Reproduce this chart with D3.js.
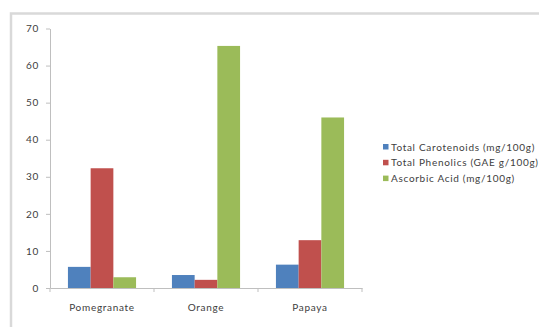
<!DOCTYPE html>
<html><head><meta charset="utf-8">
<script src="https://cdn.jsdelivr.net/npm/d3@7"></script>
<style>body{margin:0;background:#fff}svg{display:block}text{font-family:Lato,"Open Sans",sans-serif;letter-spacing:0.7px}</style>
</head><body><svg id="c" width="539" height="327"></svg>
<script>
const categories = ["Pomegranate", "Orange", "Papaya"];
const seriesNames = ["Total Carotenoids (mg/100g)", "Total Phenolics (GAE g/100g)", "Ascorbic Acid (mg/100g)"];
const carotenoids = [5.7, 3.5, 6.3];
const phenolics = [32.3, 2.2, 12.9];
const ascorbic = [2.9, 65.3, 46.0];
const yTicks = [0, 10, 20, 30, 40, 50, 60, 70];
const colors = ["#4f81bd", "#c0504d", "#9bbb59"];

const values = [carotenoids, phenolics, ascorbic];
const svg = d3.select("#c");

// frame
svg.append("path").attr("d", "M11,327V13.5H539").attr("fill", "none").attr("stroke", "#d9d9d9").attr("stroke-width", 2.5);

const x0 = d3.scaleBand().domain(categories).range([50, 362]).paddingInner(0).paddingOuter(0);
const x1 = d3.scaleBand().domain(d3.range(3)).range([0, x0.bandwidth()]).paddingInner(0).paddingOuter(0.79);
const y = d3.scaleLinear().domain([0, 70]).range([288, 28.5]);

// y axis
const ya = svg.append("g").attr("transform", "translate(50,0)")
  .call(d3.axisLeft(y).tickValues(yTicks).tickSize(4).tickPadding(7).tickSizeOuter(0));
ya.select(".domain").attr("stroke", "#bfbfbf");
ya.selectAll(".tick line").attr("stroke", "#bfbfbf");
ya.selectAll("text").attr("fill", "#404040").style("font-size", "10px");

// bars
categories.forEach((c, ci) => {
  values.forEach((arr, si) => {
    svg.append("rect")
      .attr("x", x0(c) + x1(si)).attr("width", x1.bandwidth())
      .attr("y", y(arr[ci])).attr("height", y(0) - y(arr[ci]))
      .attr("fill", colors[si]);
  });
});

// x axis
const xa = svg.append("g").attr("transform", "translate(0,288)")
  .call(d3.axisBottom(x0).tickSize(0).tickPadding(16));
xa.select(".domain").attr("stroke", "#bfbfbf");
xa.selectAll("text").attr("fill", "#404040").style("font-size", "10px");
const bounds = categories.map(c => x0(c)).concat([x0.range()[1]]);
svg.append("g").selectAll("line").data(bounds).join("line")
  .attr("x1", d => d).attr("x2", d => d).attr("y1", 288).attr("y2", 292)
  .attr("stroke", "#bfbfbf");

// legend
const lg = svg.append("g");
seriesNames.forEach((s, i) => {
  const yy = 147 + i * 15.8;
  lg.append("rect").attr("x", 383).attr("y", yy - 3).attr("width", 5.5).attr("height", 5.5).attr("fill", colors[i]);
  lg.append("text").attr("x", 391).attr("y", yy + 3.5).attr("fill", "#404040").style("font-size", "10px").text(s);
});
</script></body></html>
